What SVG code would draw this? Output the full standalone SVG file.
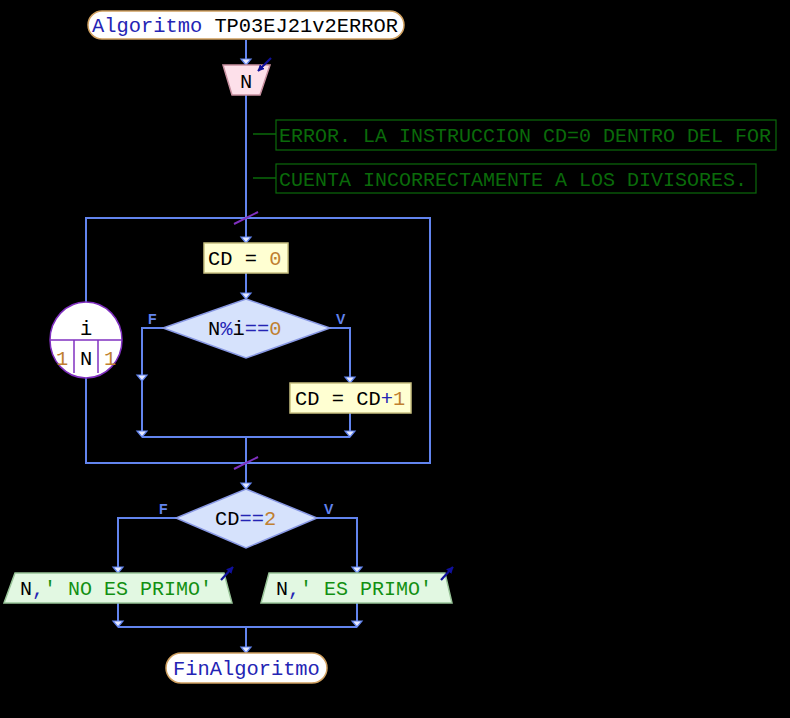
<svg xmlns="http://www.w3.org/2000/svg" width="790" height="718" viewBox="0 0 790 718">
<style>
.bg{fill:#000}
.ln{fill:none;stroke:#6284ee;stroke-width:2}
.t{font-family:"Liberation Mono","Courier New",monospace;font-size:20.4px;fill:#000}
.kw{fill:#2424b4}
.num{fill:#c08030}
.op{fill:#2424b4}
.str{fill:#129012}
.cm{font-family:"Liberation Mono","Courier New",monospace;font-size:20px;fill:#0a6a0a}
.fv{font-family:"Liberation Sans",Arial,sans-serif;font-size:14px;font-weight:bold;fill:#6284ee}
.term{fill:#fff;stroke:#d0a060;stroke-width:1.5}
.proc{fill:#ffffd2;stroke:#c8c080;stroke-width:1.5}
.dec{fill:#d6e2fc;stroke:#8898e4;stroke-width:1.5}
.inp{fill:#fde0ea;stroke:#c890a0;stroke-width:1.5}
.out{fill:#e2f8e2;stroke:#98c498;stroke-width:1.5}
.cbox{fill:none;stroke:#0a6a0a;stroke-width:1.2}
.cln{stroke:#0a6a0a;stroke-width:1.5}
.loop{fill:#fff;stroke:#8030c0;stroke-width:1.5}
.slash{stroke:#8030c0;stroke-width:2}
.io{stroke:#10109c;stroke-width:2.2;fill:none}
</style>
<defs>
<path id="ah" d="M-5,-6 L5,-6 L0,0 Z" fill="#e4e8ff" stroke="#6284ee" stroke-width="1.2"/>
<marker id="ioa" viewBox="0 0 10 10" refX="9" refY="5" markerWidth="7" markerHeight="7" orient="auto" markerUnits="userSpaceOnUse">
<path d="M0,0 L10,5 L0,10 Z" fill="#10109c"/>
</marker>
</defs>
<rect class="bg" x="0" y="0" width="790" height="718"/>

<g id="connectors">
<line class="ln" x1="246" y1="40" x2="246" y2="65"/>
<line class="ln" x1="246" y1="95" x2="246" y2="243"/>
<line class="ln" x1="246" y1="273" x2="246" y2="299"/>
<polyline class="ln" points="163,328 142,328 142,437"/>
<polyline class="ln" points="330,328 350,328 350,383"/>
<line class="ln" x1="350" y1="413" x2="350" y2="437"/>
<line class="ln" x1="142" y1="437" x2="350" y2="437"/>
<line class="ln" x1="246" y1="437" x2="246" y2="489"/>
<polyline class="ln" points="86,302 86,218 430,218 430,463 86,463 86,378"/>
<polyline class="ln" points="176,518 118,518 118,573"/>
<polyline class="ln" points="317,518 357,518 357,573"/>
<line class="ln" x1="118" y1="603" x2="118" y2="627"/>
<line class="ln" x1="357" y1="603" x2="357" y2="627"/>
<line class="ln" x1="118" y1="627" x2="357" y2="627"/>
<line class="ln" x1="246" y1="627" x2="246" y2="653"/>
<line class="slash" x1="234" y1="224" x2="258" y2="212"/>
<line class="slash" x1="234" y1="469" x2="258" y2="457"/>
<line class="cln" x1="253" y1="134" x2="276" y2="134"/>
<line class="cln" x1="253" y1="178" x2="276" y2="178"/>
<use href="#ah" x="246" y="65"/>
<use href="#ah" x="246" y="243"/>
<use href="#ah" x="246" y="299"/>
<use href="#ah" x="142" y="381"/>
<use href="#ah" x="350" y="383"/>
<use href="#ah" x="142" y="437"/>
<use href="#ah" x="350" y="437"/>
<use href="#ah" x="246" y="489"/>
<use href="#ah" x="118" y="573"/>
<use href="#ah" x="357" y="573"/>
<use href="#ah" x="118" y="627"/>
<use href="#ah" x="357" y="627"/>
<use href="#ah" x="246" y="653"/>
<text class="fv" x="148" y="324">F</text>
<text class="fv" x="336" y="324">V</text>
<text class="fv" x="159" y="514">F</text>
<text class="fv" x="324" y="514">V</text>
</g>

<g id="start">
<rect class="term" x="88" y="11" width="316" height="28" rx="14"/>
<text class="t" x="92" y="32"><tspan class="kw">Algoritmo</tspan> TP03EJ21v2ERROR</text>
</g>

<g id="read_n">
<polygon class="inp" points="223,65 270,65 260,95 232,95"/>
<text class="t" x="246" y="88" text-anchor="middle">N</text>
<line class="io" x1="271" y1="58" x2="258" y2="71" marker-end="url(#ioa)"/>
</g>

<g id="comment1">
<rect class="cbox" x="276" y="120" width="500" height="30"/>
<text class="cm" x="279" y="142">ERROR. LA INSTRUCCION CD=0 DENTRO DEL FOR</text>
</g>

<g id="comment2">
<rect class="cbox" x="276" y="164" width="480" height="29"/>
<text class="cm" x="279" y="186">CUENTA INCORRECTAMENTE A LOS DIVISORES.</text>
</g>

<g id="loop">
<ellipse class="loop" cx="86" cy="340" rx="36" ry="38"/>
<line class="loop" x1="50" y1="340" x2="122" y2="340"/>
<line class="loop" x1="74" y1="340" x2="74" y2="373"/>
<line class="loop" x1="98" y1="340" x2="98" y2="373"/>
<text class="t" x="86" y="335" text-anchor="middle">i</text>
<text class="t num" x="62" y="365" text-anchor="middle">1</text>
<text class="t" x="86" y="365" text-anchor="middle">N</text>
<text class="t num" x="110" y="365" text-anchor="middle">1</text>
</g>

<g id="assign_cd0">
<rect class="proc" x="204" y="243" width="84" height="30"/>
<text class="t" x="208" y="265">CD = <tspan class="num">0</tspan></text>
</g>

<g id="cond_mod">
<polygon class="dec" points="246,299 330,328 246,358 163,328"/>
<text class="t" x="208" y="335">N<tspan class="op">%</tspan>i<tspan class="op">==</tspan><tspan class="num">0</tspan></text>
</g>

<g id="assign_inc">
<rect class="proc" x="290" y="383" width="121" height="30"/>
<text class="t" x="295" y="405">CD = CD<tspan class="op">+</tspan><tspan class="num">1</tspan></text>
</g>

<g id="cond_cd2">
<polygon class="dec" points="246,489 317,518 246,548 176,518"/>
<text class="t" x="215" y="525">CD<tspan class="op">==</tspan><tspan class="num">2</tspan></text>
</g>

<g id="out_no">
<polygon class="out" points="15,573 224,573 232,603 4,603"/>
<text class="t" x="20" y="595" style="font-size:20px">N<tspan class="op">,</tspan><tspan class="str">' NO ES PRIMO'</tspan></text>
<line class="io" x1="221" y1="580" x2="233" y2="567" marker-end="url(#ioa)"/>
</g>

<g id="out_yes">
<polygon class="out" points="269,573 445,573 452,603 261,603"/>
<text class="t" x="276" y="595" style="font-size:20px">N<tspan class="op">,</tspan><tspan class="str">' ES PRIMO'</tspan></text>
<line class="io" x1="441" y1="580" x2="453" y2="567" marker-end="url(#ioa)"/>
</g>

<g id="end">
<rect class="term" x="166" y="653" width="161" height="30" rx="15"/>
<text class="t kw" x="173" y="675">FinAlgoritmo</text>
</g>
</svg>
